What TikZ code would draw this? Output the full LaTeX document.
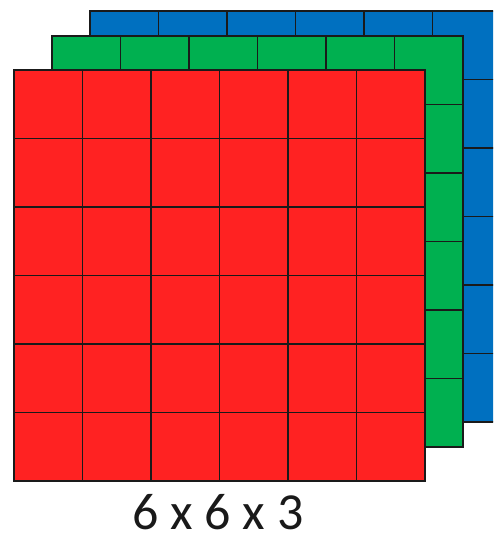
\documentclass[tikz,border=0pt]{standalone}
\usepackage{fontspec}
\setmainfont{Carlito}
\definecolor{lred}{HTML}{FF2222}
\definecolor{lgreen}{HTML}{00B050}
\definecolor{lblue}{HTML}{0070C0}
\definecolor{gline}{HTML}{1A1A1A}
\tikzset{layer/.style={line width=1.6pt,draw=gline}}
\newcommand{\gridlayer}[3]{%
  \fill[#3] (#1,#2) rectangle ++(411,411);
  \foreach \k in {1,...,5}{
    \draw[layer] ({#1+\k*68.5},#2) -- ++(0,411);
    \draw[layer] (#1,{#2+\k*68.5}) -- ++(411,0);
  }
  \draw[layer] (#1,#2) rectangle ++(411,411);
}
\begin{document}
\begin{tikzpicture}[x=1pt,y=-1pt]
\useasboundingbox (0,0) rectangle (493,540);
\begin{scope}
\clip (0,0) rectangle (493,540);
\gridlayer{90}{11}{lblue}
\gridlayer{52}{36}{lgreen}
\gridlayer{14}{70}{lred}
\end{scope}
\node[font=\fontsize{52}{60}\selectfont,text=black!90,anchor=base,inner sep=0pt] (dims) at (218,529) {6 x 6 x 3};
\end{tikzpicture}
\end{document}
